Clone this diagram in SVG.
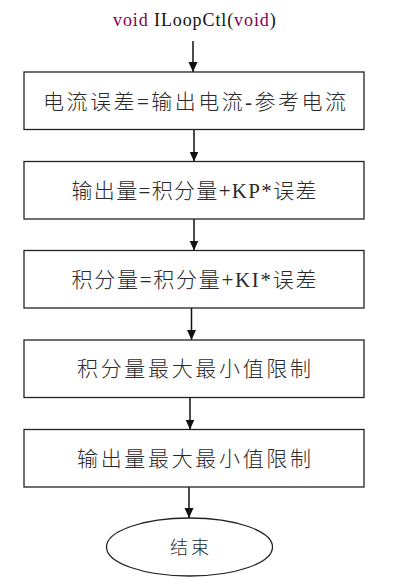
<svg xmlns="http://www.w3.org/2000/svg" width="415" height="584" viewBox="0 0 415 584">
<style>
.box{fill:#fff;stroke:#222;stroke-width:1.3}
.lbl{font-family:"Liberation Serif","Noto Sans CJK SC",serif;font-size:21px;font-weight:300;fill:#2a2a2a}
.ttl{font-family:"Liberation Serif","Noto Sans CJK SC",serif;font-size:18px;fill:#111;letter-spacing:0.9px}
.kw{fill:#7f0055}
.edge{stroke:#111;stroke-width:1.5;fill:none;marker-end:url(#arr)}
</style>
<defs>
<marker id="arr" markerUnits="userSpaceOnUse" markerWidth="10" markerHeight="10" refX="10" refY="5" orient="auto" viewBox="0 0 10 10">
<path d="M0,0.5 L10,5 L0,9.5 z" fill="#111"/>
</marker>
</defs>
<rect width="415" height="584" fill="#fff"/>
<g id="title">
<text class="ttl" x="113" y="26"><tspan class="kw">void</tspan> ILoopCtl(<tspan class="kw">void</tspan>)</text>
</g>
<g id="connectors">
<line class="edge" x1="193" y1="41" x2="193" y2="72"/>
<line class="edge" x1="194" y1="130" x2="194" y2="161.5"/>
<line class="edge" x1="194" y1="219" x2="194" y2="250.5"/>
<line class="edge" x1="191.5" y1="308" x2="191.5" y2="340"/>
<line class="edge" x1="190" y1="397.5" x2="190" y2="429.5"/>
<line class="edge" x1="189" y1="487" x2="189" y2="518"/>
</g>
<g id="node1">
<rect class="box" x="24" y="72" width="340" height="57.5"/>
<text class="lbl" x="43" y="108.5" textLength="303" lengthAdjust="spacing">电流误差=输出电流-参考电流</text>
</g>
<g id="node2">
<rect class="box" x="24" y="161.5" width="340" height="57.5"/>
<text class="lbl" x="71.5" y="198" textLength="245" lengthAdjust="spacing">输出量=积分量+KP*误差</text>
</g>
<g id="node3">
<rect class="box" x="24" y="250.5" width="340" height="57.5"/>
<text class="lbl" x="71.5" y="287" textLength="245" lengthAdjust="spacing">积分量=积分量+KI*误差</text>
</g>
<g id="node4">
<rect class="box" x="24" y="340" width="340" height="57.5"/>
<text class="lbl" x="77" y="376" textLength="234" lengthAdjust="spacing">积分量最大最小值限制</text>
</g>
<g id="node5">
<rect class="box" x="24" y="429.5" width="340" height="57.5"/>
<text class="lbl" x="77" y="465.5" textLength="234" lengthAdjust="spacing">输出量最大最小值限制</text>
</g>
<g id="end">
<ellipse class="box" cx="189.5" cy="547" rx="83" ry="29"/>
<text class="lbl" x="170" y="553.5" style="font-size:18px" textLength="39" lengthAdjust="spacing">结束</text>
</g>
</svg>
